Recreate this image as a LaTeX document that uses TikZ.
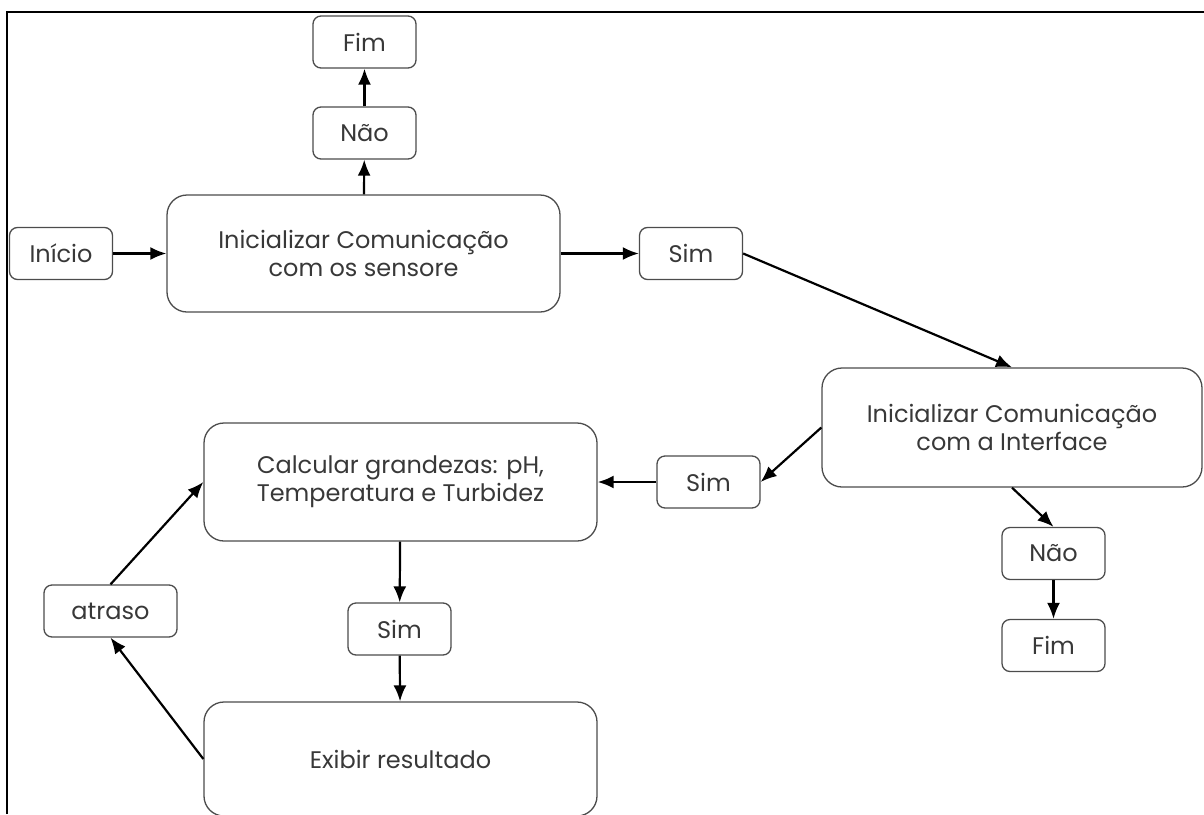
\documentclass[tikz,border=0pt]{standalone}
\usepackage{fontspec}
\setmainfont{Poppins}
\usetikzlibrary{arrows.meta}
\begin{document}
\begin{tikzpicture}[x=1pt,y=-1pt,
  box/.style={draw=black!70, line width=1.3pt, rounded corners=8pt, text=black!78,
    font=\fontsize{24}{28}\selectfont, align=center, inner sep=0pt,
    minimum width=103pt, minimum height=52pt},
  bigbox/.style={box, rounded corners=20pt},
  arr/.style={-{Latex[length=16pt,width=13pt]}, line width=2.2pt, black},
  frameline/.style={line width=2.2pt, black}]
\useasboundingbox (0,0) rectangle (1204,814);
\draw[frameline] (7,814) -- (7,12) -- (1204,12);

\node[box] (fim1) at (364.5,42) {Fim};
\node[box] (nao1) at (364.5,133) {Não};
\node[bigbox, minimum width=393pt, minimum height=117pt] (sens) at (363.5,253.5) {Inicializar Comunicação\\com os sensore};
\node[box] (ini) at (61,253.5) {Início};
\node[box] (sim1) at (691,253.5) {Sim};
\node[bigbox, minimum width=380pt, minimum height=119pt] (iface) at (1012,427.5) {Inicializar Comunicação\\com a Interface};
\node[box] (sim2) at (708.5,482) {Sim};
\node[bigbox, minimum width=393pt, minimum height=118pt] (calc) at (400.5,482) {Calcular grandezas: pH,\\Temperatura e Turbidez};
\node[box] (nao2) at (1053.5,553.5) {Não};
\node[box] (fim2) at (1053.5,645.5) {Fim};
\node[box] (sim3) at (399.5,629) {Sim};
\node[box, minimum width=133pt] (atr) at (110.5,611) {atraso};
\node[bigbox, minimum width=393pt, minimum height=114pt] (exib) at (400.5,759) {Exibir resultado};

\draw[arr] (ini) -- (sens);
\draw[arr] (sens) -- (nao1);
\draw[arr] (nao1) -- (fim1);
\draw[arr] (sens) -- (sim1);
\draw[arr] (sim1.east) -- (iface.north);
\draw[arr] (iface.west) -- (sim2.east);
\draw[arr] (sim2) -- (calc);
\draw[arr] (iface.south) -- (nao2.north);
\draw[arr] (nao2) -- (fim2);
\draw[arr] (calc) -- (sim3);
\draw[arr] (sim3) -- (exib);
\draw[arr] (exib.west) -- (atr.south);
\draw[arr] (atr.north) -- (calc.west);
\end{tikzpicture}
\end{document}
